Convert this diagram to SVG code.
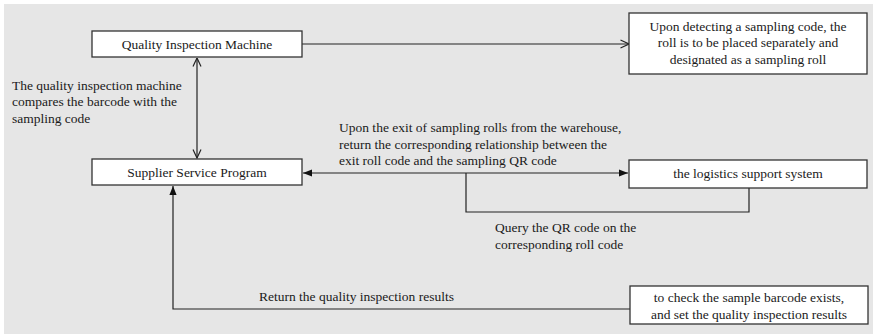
<svg xmlns="http://www.w3.org/2000/svg" width="873" height="334" viewBox="0 0 873 334">
<style>
.box{fill:#fff;stroke:#333;stroke-width:1.3}
.t{font-family:"Liberation Serif","Times New Roman",serif;font-size:13.5px;fill:#1a1a1a}
.c{text-anchor:middle}
.ln{fill:none;stroke:#222;stroke-width:1.2}
</style>
<defs>
<marker id="open" viewBox="0 0 10 10" refX="9.5" refY="5" markerWidth="10" markerHeight="10" markerUnits="userSpaceOnUse" orient="auto-start-reverse">
<path d="M1,1 L9.5,5 L1,9" fill="none" stroke="#222" stroke-width="1.2"/>
</marker>
<marker id="fill" viewBox="0 0 10 10" refX="10" refY="5" markerWidth="9" markerHeight="9" markerUnits="userSpaceOnUse" orient="auto-start-reverse">
<path d="M0,1 L10,5 L0,9 Z" fill="#111"/>
</marker>
</defs>
<rect x="4" y="4" width="869" height="330" fill="#e6e6e6"/>
<g id="connectors">
<line class="ln" x1="197" y1="58" x2="197" y2="158" marker-start="url(#open)" marker-end="url(#open)"/>
<line class="ln" x1="302" y1="44" x2="629" y2="44" marker-end="url(#open)"/>
<line class="ln" x1="303" y1="173" x2="628" y2="173" marker-start="url(#fill)" marker-end="url(#fill)"/>
<polyline class="ln" points="466,173 466,212 749,212 749,188"/>
<polyline class="ln" points="630,309 173,309 173,186" marker-end="url(#fill)"/>
</g>
<g id="quality-inspection-machine">
<rect class="box" x="92" y="31" width="210" height="26"/>
<text class="t c" x="197" y="48.5">Quality Inspection Machine</text>
</g>
<g id="sampling-roll">
<rect class="box" x="629" y="13" width="238" height="61"/>
<text class="t c" x="748" y="30.5">Upon detecting a sampling code, the</text>
<text class="t c" x="748" y="47">roll is to be placed separately and</text>
<text class="t c" x="748" y="63.5">designated as a sampling roll</text>
</g>
<g id="supplier-service-program">
<rect class="box" x="92" y="159" width="210" height="26"/>
<text class="t c" x="197" y="176.5">Supplier Service Program</text>
</g>
<g id="logistics-support-system">
<rect class="box" x="629" y="160" width="238" height="28"/>
<text class="t c" x="748" y="178">the logistics support system</text>
</g>
<g id="check-sample-barcode">
<rect class="box" x="630" y="286" width="238" height="38"/>
<text class="t c" x="749" y="301.5">to check the sample barcode exists,</text>
<text class="t c" x="749" y="318.5">and set the quality inspection results</text>
</g>
<g id="labels">
<text class="t" x="12" y="89.5">The quality inspection machine</text>
<text class="t" x="12" y="106">compares the barcode with the</text>
<text class="t" x="12" y="122.5">sampling code</text>
<text class="t" x="339" y="132">Upon the exit of sampling rolls from the warehouse,</text>
<text class="t" x="339" y="148.5">return the corresponding relationship between the</text>
<text class="t" x="339" y="165">exit roll code and the sampling QR code</text>
<text class="t" x="495" y="232">Query the QR code on the</text>
<text class="t" x="495" y="249">corresponding roll code</text>
<text class="t" x="259" y="301">Return the quality inspection results</text>
</g>
</svg>
